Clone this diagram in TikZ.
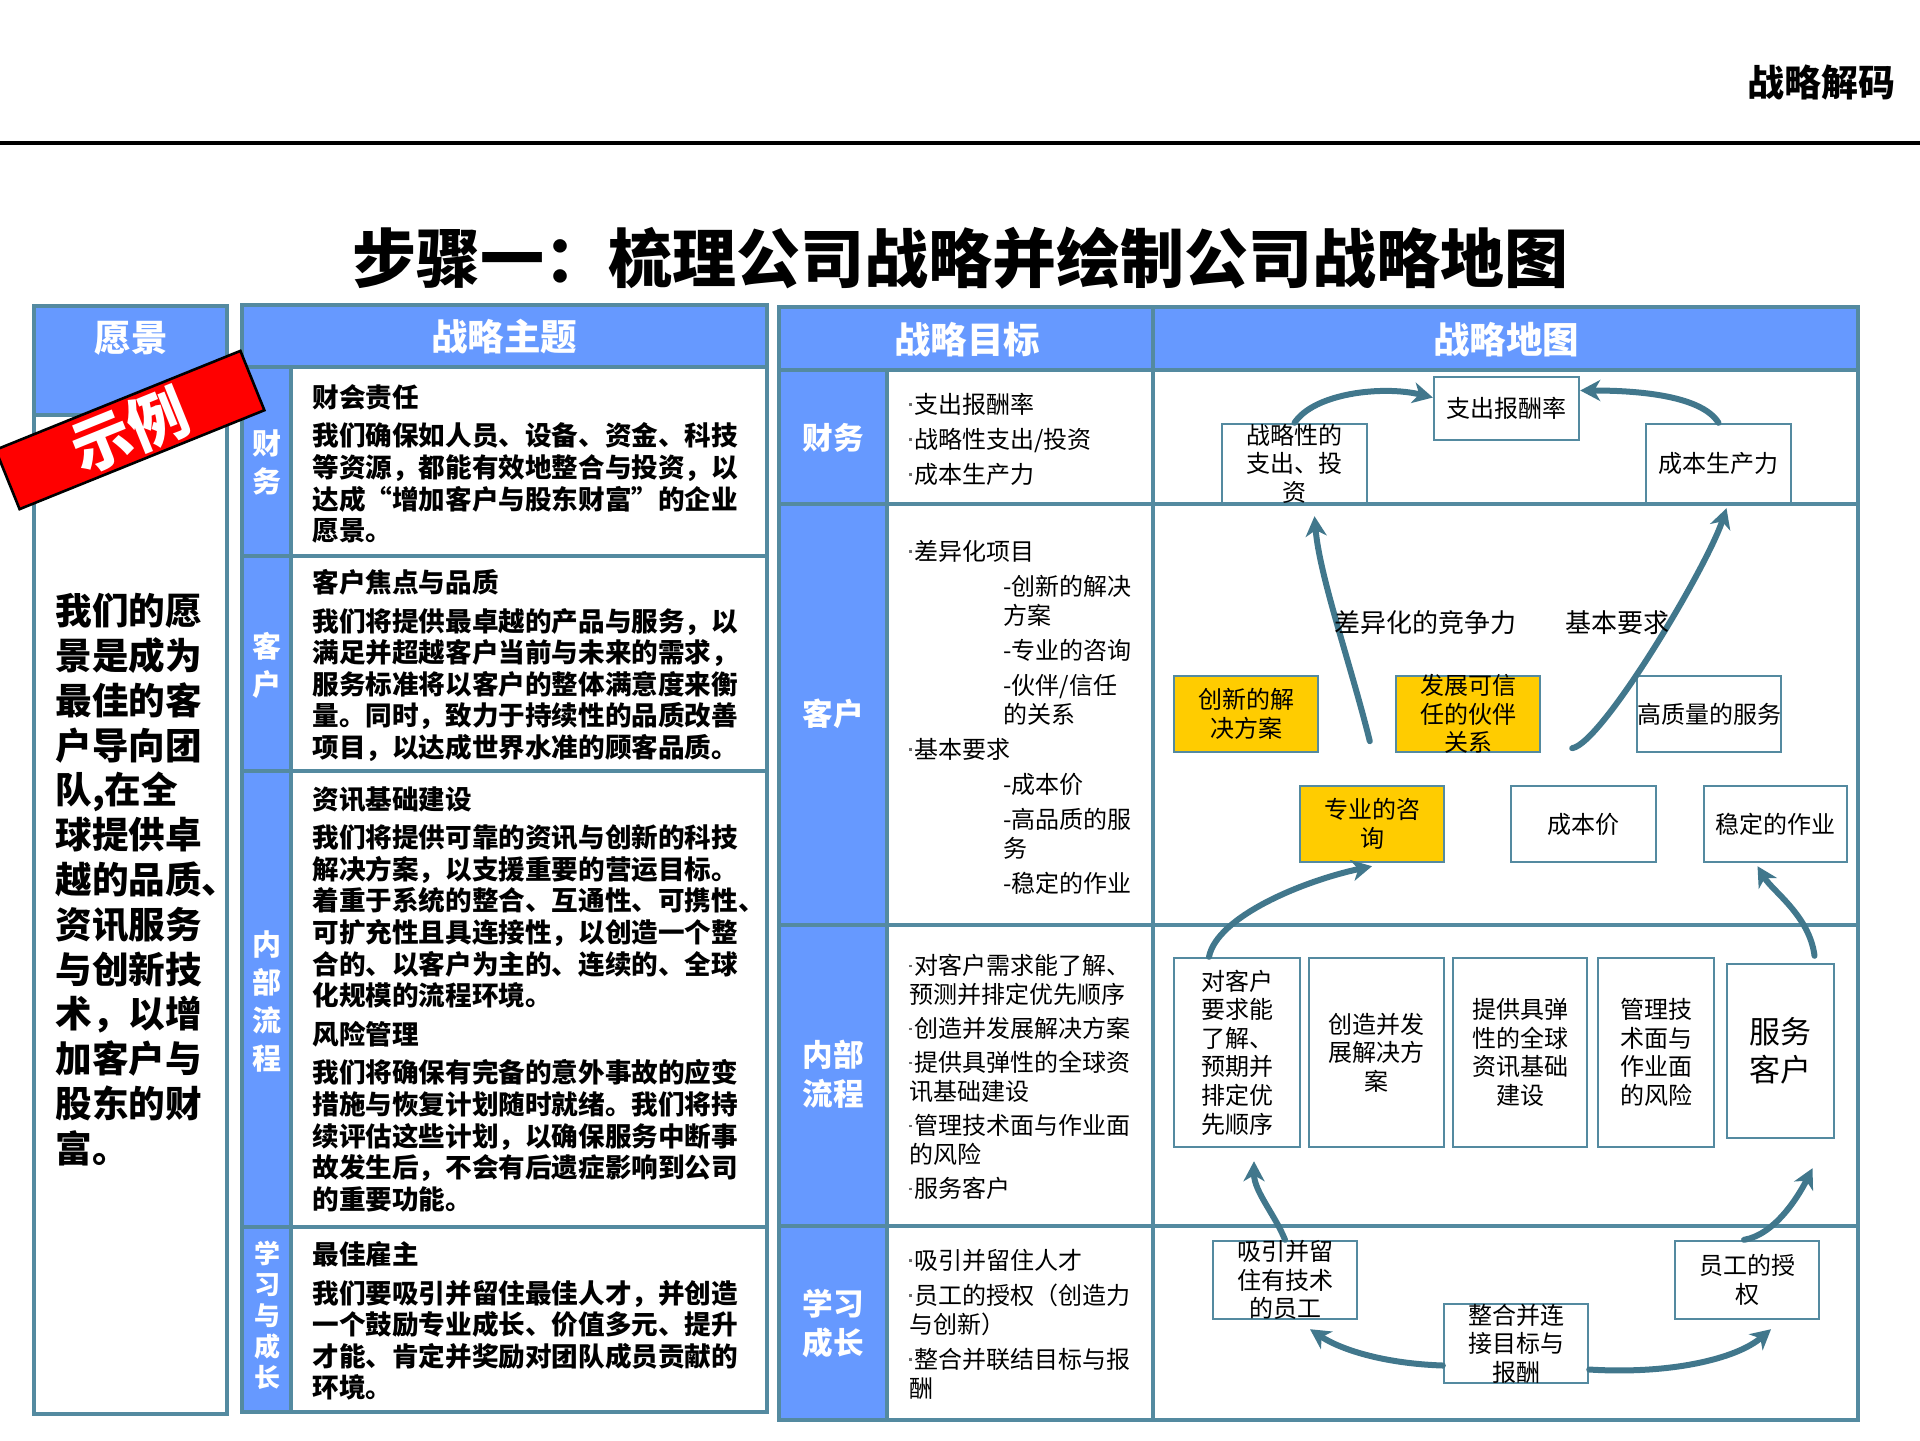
\documentclass[tikz,border=0pt]{standalone}
\usepackage{fontspec}
\setmainfont{Noto Sans CJK SC}
\usetikzlibrary{arrows.meta}
\definecolor{hdrblue}{RGB}{102,153,255}
\definecolor{bordc}{RGB}{84,138,160}
\definecolor{arrc}{RGB}{65,119,140}
\definecolor{boxyel}{RGB}{255,204,0}
\definecolor{dotgray}{RGB}{110,110,110}
\newcommand{\bul}{{\color{dotgray}\rule[0.32em]{1.3pt}{1.3pt}}\hspace{1.2pt}}
\newcommand{\ind}{\hspace*{47pt}}
\begin{document}
\begin{tikzpicture}[x=0.5pt,y=-0.5pt,
  tbl/.style={draw=bordc,line width=1.6pt},
  hdrtxt/.style={text=white,inner sep=0pt,font=\fontsize{18.25}{20}\selectfont\bfseries},
  striptxt/.style={text=white,align=center,inner sep=0pt,font=\fontsize{14.5}{19}\selectfont\bfseries},
  labtxt/.style={text=white,align=center,inner sep=0pt,font=\fontsize{15.3}{19.5}\selectfont\bfseries},
  bodytxt/.style={anchor=north west,align=left,inner sep=0pt,font=\fontsize{13.3}{15.8}\selectfont\bfseries},
  listtxt/.style={anchor=north west,align=left,inner sep=0pt,font=\fontsize{12}{14.5}\selectfont},
  mbox/.style={draw=bordc,line width=1.2pt,fill=white,inner sep=0pt},
  ybox/.style={mbox,fill=boxyel},
  btxt/.style={align=center,inner sep=0pt,font=\fontsize{12}{14.3}\selectfont},
  conn/.style={draw=arrc,line width=3pt,line cap=round,-{Stealth[length=10pt,width=10.5pt,inset=3pt]}}
]
\useasboundingbox (0,0) rectangle (1920,1440);

% top band
\node[inner sep=0pt,font=\fontsize{18.5}{20}\selectfont\bfseries] (brand) at (1821,82) {战略解码};
\draw[line width=1.8pt] (0,143) -- (1920,143);
\node[inner sep=0pt,font=\fontsize{32}{36}\selectfont\bfseries] (title) at (960,258) {步骤一：梳理公司战略并绘制公司战略地图};

% column 1
\fill[hdrblue] (34,306) rectangle (227,415);
\draw[tbl] (34,306) rectangle (227,1414);
\draw[tbl] (34,415) -- (227,415);
% column 2
\fill[hdrblue] (242,305) rectangle (767,367);
\fill[hdrblue] (242,367) rectangle (291,1412);
\draw[tbl] (242,305) rectangle (767,1412);
\draw[tbl] (242,367) -- (767,367);
\draw[tbl] (291,367) -- (291,1412);
\foreach \yy in {556,771,1227} \draw[tbl] (242,\yy) -- (767,\yy);
% columns 3 and 4
\fill[hdrblue] (779,307) rectangle (1858,370);
\fill[hdrblue] (779,370) rectangle (887,1420);
\draw[tbl] (779,307) rectangle (1858,1420);
\draw[tbl] (779,370) -- (1858,370);
\draw[tbl] (887,370) -- (887,1420);
\draw[tbl] (1153,307) -- (1153,1420);
\foreach \yy in {504,925,1226} \draw[tbl] (779,\yy) -- (1858,\yy);

% headers
\node[hdrtxt] (h1) at (131,338) {愿景};
\node[hdrtxt] (h2) at (504,337) {战略主题};
\node[hdrtxt] (h3) at (967,340) {战略目标};
\node[hdrtxt] (h4) at (1506,340) {战略地图};

% column 1 text
\node[anchor=north west,align=left,inner sep=0pt,font=\fontsize{18.3}{22.4}\selectfont\bfseries] (vis) at (55,593)
 {我们的愿\\景是成为\\最佳的客\\户导向团\\队,在全\\球提供卓\\越的品质、\\资讯服务\\与创新技\\术，以增\\加客户与\\股东的财\\富。};

% column 2 strip labels
\node[striptxt] (s1) at (267,462) {财\\务};
\node[striptxt] (s2) at (267,665) {客\\户};
\node[striptxt] (s3) at (267,1001) {内\\部\\流\\程};
\node[striptxt,font=\fontsize{13}{15.5}\selectfont\bfseries] (s4) at (267,1315) {学\\习\\与\\成\\长};

% column 2 text
\node[bodytxt] (t1) at (312,384) {财会责任\\[3.5pt]我们确保如人员、设备、资金、科技\\等资源，都能有效地整合与投资，以\\达成“增加客户与股东财富”的企业\\愿景。};
\node[bodytxt] (t2) at (312,569) {客户焦点与品质\\[3.5pt]我们将提供最卓越的产品与服务，以\\满足并超越客户当前与未来的需求，\\服务标准将以客户的整体满意度来衡\\量。同时，致力于持续性的品质改善\\项目，以达成世界水准的顾客品质。};
\node[bodytxt] (t3) at (312,786) {资讯基础建设\\[3.5pt]我们将提供可靠的资讯与创新的科技\\解决方案，以支援重要的营运目标。\\着重于系统的整合、互通性、可携性、\\可扩充性且具连接性，以创造一个整\\合的、以客户为主的、连续的、全球\\化规模的流程环境。\\[3.5pt]风险管理\\[3.5pt]我们将确保有完备的意外事故的应变\\措施与恢复计划随时就绪。我们将持\\续评估这些计划，以确保服务中断事\\故发生后，不会有后遗症影响到公司\\的重要功能。};
\node[bodytxt] (t4) at (312,1241) {最佳雇主\\[3.5pt]我们要吸引并留住最佳人才，并创造\\一个鼓励专业成长、价值多元、提升\\才能、肯定并奖励对团队成员贡献的\\环境。};

% column 3 labels
\node[labtxt] (g1) at (833,438) {财务};
\node[labtxt] (g2) at (833,714) {客户};
\node[labtxt] (g3) at (833,1074) {内部\\流程};
\node[labtxt] (g4) at (833,1323) {学习\\成长};

% column 3 lists
\node[listtxt] (c1) at (909,393) {\bul 支出报酬率\\[3pt]\bul 战略性支出/投资\\[3pt]\bul 成本生产力};
\node[listtxt] (c2) at (909,540) {\bul 差异化项目\\[3pt]\ind -创新的解决\\\ind 方案\\[3pt]\ind -专业的咨询\\[3pt]\ind -伙伴/信任\\\ind 的关系\\[3pt]\bul 基本要求\\[3pt]\ind -成本价\\[3pt]\ind -高品质的服\\\ind 务\\[3pt]\ind -稳定的作业};
\node[listtxt] (c3) at (909,954) {\bul 对客户需求能了解、\\预测并排定优先顺序\\[2.5pt]\bul 创造并发展解决方案\\[2.5pt]\bul 提供具弹性的全球资\\讯基础建设\\[2.5pt]\bul 管理技术面与作业面\\的风险\\[2.5pt]\bul 服务客户};
\node[listtxt] (c4) at (909,1249) {\bul 吸引并留住人才\\[3pt]\bul 员工的授权（创造力\\与创新）\\[3pt]\bul 整合并联结目标与报\\酬};

% strategy map boxes
\node[mbox,minimum width=72.5pt,minimum height=31.5pt] (zc) at (1506.5,408.5) {};
\node[mbox,minimum width=72.5pt,minimum height=39.5pt] (zl) at (1294.5,463.5) {};
\node[mbox,minimum width=72.5pt,minimum height=39.5pt] (cs) at (1718.5,463.5) {};
\node[ybox,minimum width=72pt,minimum height=38pt] (cx) at (1246,714) {};
\node[ybox,minimum width=72pt,minimum height=38pt] (hb) at (1468,714) {};
\node[mbox,minimum width=72pt,minimum height=38pt] (gz) at (1709,714) {};
\node[ybox,minimum width=72pt,minimum height=38pt] (zy) at (1372,824) {};
\node[mbox,minimum width=72.5pt,minimum height=38pt] (cb) at (1583.5,824) {};
\node[mbox,minimum width=71.5pt,minimum height=38pt] (wd) at (1775.5,824) {};
\node[mbox,minimum width=63pt,minimum height=94.5pt] (p1) at (1237,1052.5) {};
\node[mbox,minimum width=67.5pt,minimum height=94.5pt] (p2) at (1376.5,1052.5) {};
\node[mbox,minimum width=67pt,minimum height=94.5pt] (p3) at (1520,1052.5) {};
\node[mbox,minimum width=58pt,minimum height=94.5pt] (p4) at (1656,1052.5) {};
\node[mbox,minimum width=53.5pt,minimum height=87pt] (p5) at (1780.5,1051) {};
\node[mbox,minimum width=72pt,minimum height=39pt] (l1) at (1285,1280) {};
\node[mbox,minimum width=72pt,minimum height=39.5pt] (l2) at (1516,1343.5) {};
\node[mbox,minimum width=72pt,minimum height=39pt] (l3) at (1747,1280) {};

% arrows
\draw[conn] (zl.north) .. controls +(20,-30) and +(-50,-12) .. ([yshift=5.5pt]zc.west);
\draw[conn] (cs.north) .. controls +(-18,-29) and +(50,0) .. ([yshift=9pt]zc.east);
\draw[conn] ([xshift=-12.5pt,yshift=6pt]hb.south west) .. controls +(-20,-80) and +(5,60) .. ([xshift=10pt,yshift=-6pt]zl.south);
\draw[conn] ([xshift=15.5pt,yshift=2.5pt]hb.south east) .. controls +(30,-5) and +(-20,60) .. ([xshift=4pt,yshift=-2pt]cs.south);
\draw[conn] ([xshift=-14pt]p1.north) .. controls +(8,-40) and +(-70,15) .. ([yshift=-1.5pt]zy.south);
\draw[conn] ([xshift=17pt,yshift=3.5pt]p5.north) .. controls +(-5,-40) and +(15,25) .. ([xshift=-9pt,yshift=-1.5pt]wd.south);
\draw[conn] (l1.north) .. controls +(-10,-25) and +(0,30) .. ([xshift=8.5pt,yshift=-6.5pt]p1.south);
\draw[conn] ([xshift=-1.5pt]l3.north) .. controls +(30,-5) and +(-15,30) .. ([xshift=16pt,yshift=-14.5pt]p5.south);
\draw[conn] ([yshift=-11pt]l2.west) .. controls +(-60,-2) and +(30,20) .. ([xshift=12.5pt,yshift=-4.5pt]l1.south);
\draw[conn] ([yshift=-13pt]l2.east) .. controls +(80,5) and +(-35,30) .. ([xshift=12pt,yshift=-4.5pt]l3.south);

% box texts
\node[btxt] (zc-t) at (zc) {支出报酬率};
\node[btxt] (zl-t) at (zl) {战略性的\\支出、投\\资};
\node[btxt] (cs-t) at (cs) {成本生产力};
\node[btxt] (cx-t) at (cx) {创新的解\\决方案};
\node[btxt] (hb-t) at (hb) {发展可信\\任的伙伴\\关系};
\node[btxt] (gz-t) at (gz) {高质量的服务};
\node[btxt] (zy-t) at (zy) {专业的咨\\询};
\node[btxt] (cb-t) at (cb) {成本价};
\node[btxt] (wd-t) at (wd) {稳定的作业};
\node[btxt] (p1-t) at (p1) {对客户\\要求能\\了解、\\预期并\\排定优\\先顺序};
\node[btxt] (p2-t) at (p2) {创造并发\\展解决方\\案};
\node[btxt] (p3-t) at (p3) {提供具弹\\性的全球\\资讯基础\\建设};
\node[btxt] (p4-t) at (p4) {管理技\\术面与\\作业面\\的风险};
\node[btxt,font=\fontsize{15.5}{19}\selectfont] (p5-t) at (p5) {服务\\客户};
\node[btxt] (l1-t) at (l1) {吸引并留\\住有技术\\的员工};
\node[btxt] (l2-t) at (l2) {整合并连\\接目标与\\报酬};
\node[btxt] (l3-t) at (l3) {员工的授\\权};
\node[inner sep=0pt,font=\fontsize{13}{15}\selectfont] (dl) at (1425,623) {差异化的竞争力};
\node[inner sep=0pt,font=\fontsize{13}{15}\selectfont] (jl) at (1617,623) {基本要求};

% example banner
\begin{scope}
\clip (0,0) rectangle (1920,1440);
\node[draw=black,line width=1.3pt,fill=red,minimum width=132pt,minimum height=32pt,inner sep=0pt,rotate=22] (ban) at (130,430) {};
\node[rotate=22,text=white,inner sep=0pt,font=\fontsize{30}{32}\selectfont\bfseries] (ban-t) at (ban.center) {示例};
\end{scope}
\end{tikzpicture}
\end{document}
